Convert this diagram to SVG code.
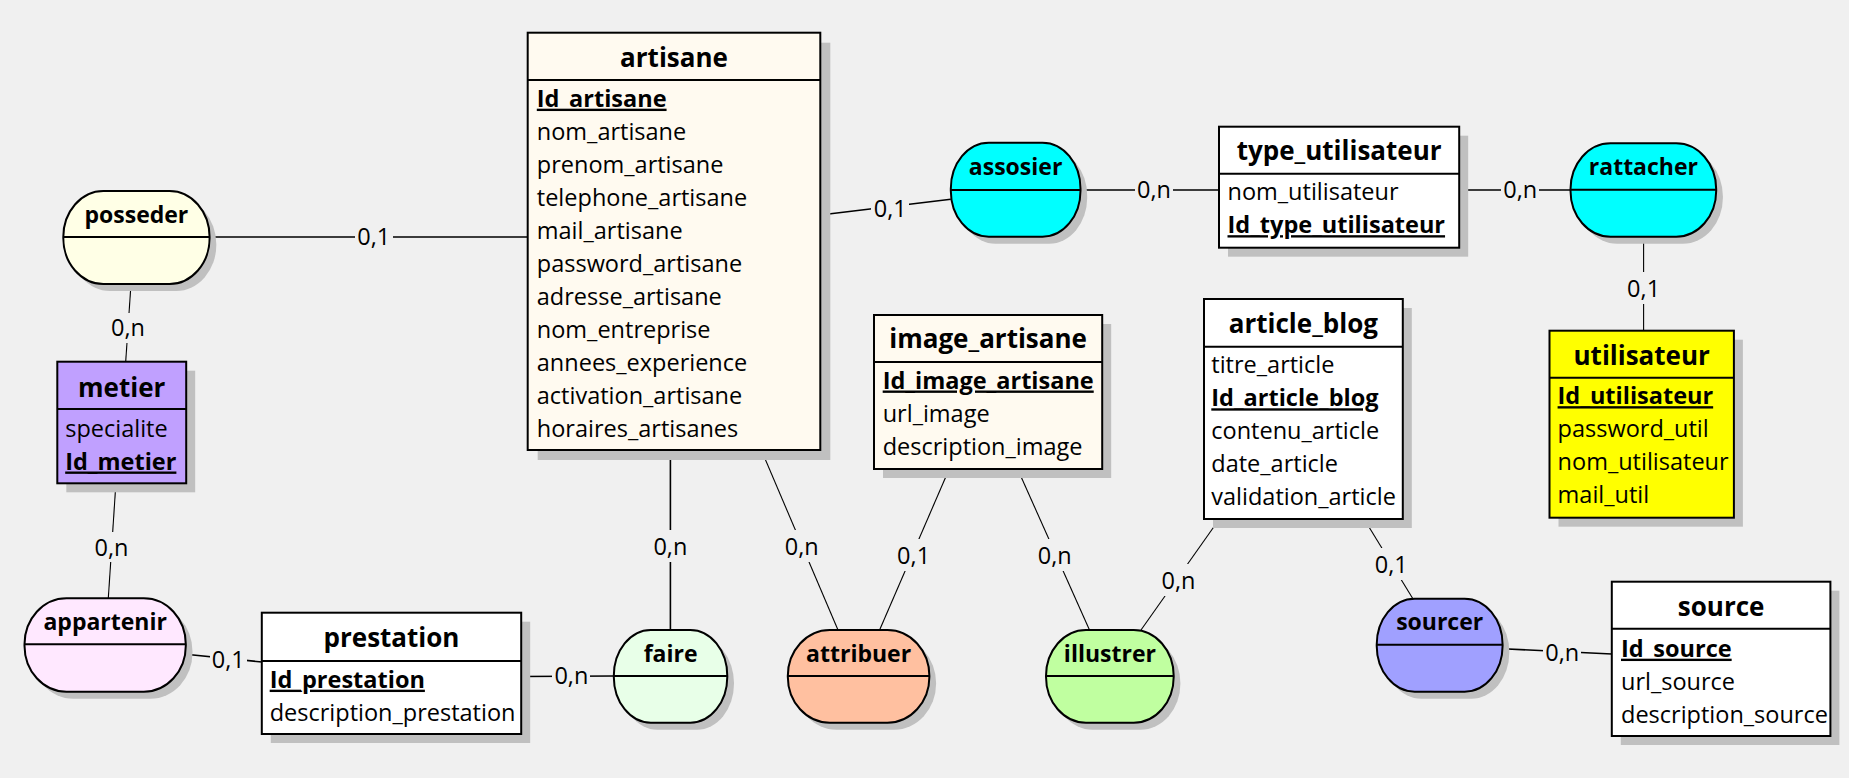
<svg xmlns="http://www.w3.org/2000/svg" width="1849" height="778" viewBox="0 0 1849 778">
<style>
.bg{fill:#f0f0f0}
.sh{fill:#c0c0c0}
.box{stroke:#000;stroke-width:2}
.div{stroke:#000;stroke-width:2}
.t{font-family:"Open Sans","DejaVu Sans",sans-serif;font-size:23.5px;fill:#000}
.ttl{font-weight:bold;font-size:26px;text-anchor:middle}
.id{font-weight:bold;text-decoration:underline}
.an{font-weight:bold;font-size:23px;text-anchor:middle}
.card{text-anchor:middle}
.ln{stroke:#000;stroke-width:1.6;fill:none}
.dl{stroke:#000;stroke-width:1.1;fill:none}
.cream{fill:#fffaf0}
.white{fill:#ffffff}
</style>
<rect class="bg" x="0" y="0" width="1849" height="778"/>

<g id="connectors">
  <line class="ln" x1="209.6" y1="237" x2="527.7" y2="237"/>
  <line class="dl" x1="131" y1="284" x2="125.7" y2="361.7"/>
  <line class="dl" x1="115.9" y1="483.3" x2="108.3" y2="598.3"/>
  <line class="ln" x1="185.8" y1="654.3" x2="261.8" y2="662"/>
  <line class="ln" x1="521.2" y1="676.5" x2="613.8" y2="676"/>
  <line class="ln" x1="670.4" y1="450" x2="670.4" y2="630"/>
  <line class="dl" x1="761.3" y1="450" x2="838" y2="630"/>
  <line class="dl" x1="949.2" y1="469" x2="879.6" y2="630"/>
  <line class="dl" x1="1017.6" y1="469" x2="1089.5" y2="630"/>
  <line class="dl" x1="1219.4" y1="519" x2="1141" y2="630"/>
  <line class="dl" x1="1364.1" y1="519" x2="1413.2" y2="599.3"/>
  <line class="ln" x1="1502.6" y1="648.7" x2="1611.8" y2="654"/>
  <line class="ln" x1="820.3" y1="215" x2="950.8" y2="199.3"/>
  <line class="ln" x1="1080.5" y1="190" x2="1219" y2="190"/>
  <line class="ln" x1="1459.2" y1="190" x2="1570.5" y2="190"/>
  <line class="dl" x1="1643.6" y1="236.7" x2="1643.6" y2="330.7"/>
  <g id="cards">
    <rect class="bg" x="355" y="224" width="38" height="26"/><text class="t card" x="373.7" y="245">0,1</text>
    <rect class="bg" x="109" y="313" width="38" height="30"/><text class="t card" x="128" y="336">0,n</text>
    <rect class="bg" x="92" y="532" width="38" height="30"/><text class="t card" x="111.5" y="555.5">0,n</text>
    <rect class="bg" x="210" y="648" width="37" height="24"/><text class="t card" x="228.3" y="668">0,1</text>
    <rect class="bg" x="552" y="663" width="38" height="26"/><text class="t card" x="571.4" y="684">0,n</text>
    <rect class="bg" x="651" y="530" width="38" height="32"/><text class="t card" x="670.4" y="555">0,n</text>
    <rect class="bg" x="782" y="530" width="38" height="32"/><text class="t card" x="801.7" y="555">0,n</text>
    <rect class="bg" x="894" y="539" width="38" height="32"/><text class="t card" x="913.6" y="564">0,1</text>
    <rect class="bg" x="1035" y="539" width="38" height="32"/><text class="t card" x="1054.7" y="564">0,n</text>
    <rect class="bg" x="1159" y="564" width="38" height="32"/><text class="t card" x="1178.5" y="589">0,n</text>
    <rect class="bg" x="1372" y="548" width="38" height="32"/><text class="t card" x="1391.2" y="573">0,1</text>
    <rect class="bg" x="1543" y="640" width="38" height="26"/><text class="t card" x="1562.2" y="661">0,n</text>
    <rect class="bg" x="871" y="195" width="38" height="26"/><text class="t card" x="890.3" y="216.5">0,1</text>
    <rect class="bg" x="1135" y="177" width="38" height="26"/><text class="t card" x="1154" y="198">0,n</text>
    <rect class="bg" x="1501" y="177" width="38" height="26"/><text class="t card" x="1520.3" y="198">0,n</text>
    <rect class="bg" x="1624" y="272" width="38" height="32"/><text class="t card" x="1643.6" y="296.5">0,1</text>
  </g>
</g>

<g id="artisane">
  <rect class="sh" x="537.7" y="42.7" width="292.6" height="417.3"/>
  <rect class="box cream" x="527.7" y="32.7" width="292.6" height="417.3"/>
  <line class="div" x1="527.7" y1="80" x2="820.3" y2="80"/>
  <text class="t ttl" x="674" y="66.7">artisane</text>
  <text class="t id" x="536.8" y="106.7">Id_artisane</text>
  <text class="t" x="536.8" y="139.7">nom_artisane</text>
  <text class="t" x="536.8" y="172.7">prenom_artisane</text>
  <text class="t" x="536.8" y="205.7">telephone_artisane</text>
  <text class="t" x="536.8" y="238.7">mail_artisane</text>
  <text class="t" x="536.8" y="271.7">password_artisane</text>
  <text class="t" x="536.8" y="304.7">adresse_artisane</text>
  <text class="t" x="536.8" y="337.7">nom_entreprise</text>
  <text class="t" x="536.8" y="370.7">annees_experience</text>
  <text class="t" x="536.8" y="403.7">activation_artisane</text>
  <text class="t" x="536.8" y="436.7">horaires_artisanes</text>
</g>

<g id="image_artisane">
  <rect class="sh" x="883" y="324" width="228.2" height="154"/>
  <rect class="box cream" x="874" y="315" width="228.2" height="154"/>
  <line class="div" x1="874" y1="362" x2="1102.2" y2="362"/>
  <text class="t ttl" x="988.1" y="348.3">image_artisane</text>
  <text class="t id" x="882.7" y="388.5">Id_image_artisane</text>
  <text class="t" x="882.7" y="421.5">url_image</text>
  <text class="t" x="882.7" y="454.5">description_image</text>
</g>

<g id="type_utilisateur">
  <rect class="sh" x="1228" y="135.7" width="240.2" height="121"/>
  <rect class="box white" x="1219" y="126.7" width="240.2" height="121"/>
  <line class="div" x1="1219" y1="173.7" x2="1459.2" y2="173.7"/>
  <text class="t ttl" x="1339.1" y="160">type_utilisateur</text>
  <text class="t" x="1227.5" y="200.2">nom_utilisateur</text>
  <text class="t id" x="1227.5" y="233.2">Id_type_utilisateur</text>
</g>

<g id="utilisateur">
  <rect class="sh" x="1558.5" y="339.7" width="184.4" height="187"/>
  <rect class="box" fill="#ffff00" x="1549.5" y="330.7" width="184.4" height="187"/>
  <line class="div" x1="1549.5" y1="377.7" x2="1733.9" y2="377.7"/>
  <text class="t ttl" x="1641.7" y="365">utilisateur</text>
  <text class="t id" x="1557.6" y="404.2">Id_utilisateur</text>
  <text class="t" x="1557.6" y="437.2">password_util</text>
  <text class="t" x="1557.6" y="470.2">nom_utilisateur</text>
  <text class="t" x="1557.6" y="503.2">mail_util</text>
</g>

<g id="article_blog">
  <rect class="sh" x="1213" y="308" width="198.8" height="220"/>
  <rect class="box white" x="1204" y="299" width="198.8" height="220"/>
  <line class="div" x1="1204" y1="346.7" x2="1402.8" y2="346.7"/>
  <text class="t ttl" x="1303.4" y="333.3">article_blog</text>
  <text class="t" x="1211.3" y="373.3">titre_article</text>
  <text class="t id" x="1211.3" y="406.3">Id_article_blog</text>
  <text class="t" x="1211.3" y="439.3">contenu_article</text>
  <text class="t" x="1211.3" y="472.3">date_article</text>
  <text class="t" x="1211.3" y="505.3">validation_article</text>
</g>

<g id="metier">
  <rect class="sh" x="66.3" y="370.7" width="128.9" height="121.6"/>
  <rect class="box" fill="#c0a0ff" x="57.3" y="361.7" width="128.9" height="121.6"/>
  <line class="div" x1="57.3" y1="409" x2="186.2" y2="409"/>
  <text class="t ttl" x="121.7" y="396.7">metier</text>
  <text class="t" x="65.2" y="436.5">specialite</text>
  <text class="t id" x="65.2" y="469.5">Id_metier</text>
</g>

<g id="prestation">
  <rect class="sh" x="270.8" y="621.7" width="259.4" height="121.3"/>
  <rect class="box white" x="261.8" y="612.7" width="259.4" height="121.3"/>
  <line class="div" x1="261.8" y1="661" x2="521.2" y2="661"/>
  <text class="t ttl" x="391.5" y="646.7">prestation</text>
  <text class="t id" x="269.7" y="687.7">Id_prestation</text>
  <text class="t" x="269.7" y="720.7">description_prestation</text>
</g>

<g id="source">
  <rect class="sh" x="1620.8" y="590.7" width="218.6" height="154.3"/>
  <rect class="box white" x="1611.8" y="581.7" width="218.6" height="154.3"/>
  <line class="div" x1="1611.8" y1="628.7" x2="1830.4" y2="628.7"/>
  <text class="t ttl" x="1721.1" y="616">source</text>
  <text class="t id" x="1621" y="656.7">Id_source</text>
  <text class="t" x="1621" y="689.7">url_source</text>
  <text class="t" x="1621" y="722.7">description_source</text>
</g>

<g id="posseder">
  <rect class="sh" x="70" y="198" width="146.3" height="93" rx="40" ry="46"/>
  <rect class="box" fill="#ffffe6" x="63.3" y="191" width="146.3" height="93" rx="40" ry="46"/>
  <line class="div" x1="63.3" y1="237" x2="209.6" y2="237"/>
  <text class="t an" x="136.4" y="222.7">posseder</text>
</g>

<g id="assosier">
  <rect class="sh" x="957.5" y="149.7" width="129.7" height="94" rx="38" ry="46"/>
  <rect class="box" fill="#00ffff" x="950.8" y="142.7" width="129.7" height="94" rx="38" ry="46"/>
  <line class="div" x1="950.8" y1="190" x2="1080.5" y2="190"/>
  <text class="t an" x="1015.6" y="175">assosier</text>
</g>

<g id="rattacher">
  <rect class="sh" x="1577.2" y="150.3" width="145.7" height="93.4" rx="40" ry="46"/>
  <rect class="box" fill="#00ffff" x="1570.5" y="143.3" width="145.7" height="93.4" rx="40" ry="46"/>
  <line class="div" x1="1570.5" y1="189.7" x2="1716.2" y2="189.7"/>
  <text class="t an" x="1643.4" y="175">rattacher</text>
</g>

<g id="appartenir">
  <rect class="sh" x="31.2" y="605.3" width="161.3" height="93.4" rx="42" ry="46"/>
  <rect class="box" fill="#ffe8ff" x="24.5" y="598.3" width="161.3" height="93.4" rx="42" ry="46"/>
  <line class="div" x1="24.5" y1="644.3" x2="185.8" y2="644.3"/>
  <text class="t an" x="105.2" y="630">appartenir</text>
</g>

<g id="faire">
  <rect class="sh" x="620.5" y="637" width="113.5" height="92.7" rx="37" ry="46"/>
  <rect class="box" fill="#e8ffe8" x="613.8" y="630" width="113.5" height="92.7" rx="37" ry="46"/>
  <line class="div" x1="613.8" y1="676" x2="727.3" y2="676"/>
  <text class="t an" x="670.6" y="661.7">faire</text>
</g>

<g id="attribuer">
  <rect class="sh" x="794.5" y="637" width="141.6" height="92.7" rx="42" ry="46"/>
  <rect class="box" fill="#ffc0a0" x="787.8" y="630" width="141.6" height="92.7" rx="42" ry="46"/>
  <line class="div" x1="787.8" y1="676" x2="929.4" y2="676"/>
  <text class="t an" x="858.6" y="661.7">attribuer</text>
</g>

<g id="illustrer">
  <rect class="sh" x="1052.7" y="637" width="127.7" height="92.7" rx="40" ry="46"/>
  <rect class="box" fill="#c0ffa0" x="1046" y="630" width="127.7" height="92.7" rx="40" ry="46"/>
  <line class="div" x1="1046" y1="676" x2="1173.7" y2="676"/>
  <text class="t an" x="1109.9" y="661.7">illustrer</text>
</g>

<g id="sourcer">
  <rect class="sh" x="1383.4" y="605.7" width="125.9" height="93" rx="38" ry="46"/>
  <rect class="box" fill="#a0a0ff" x="1376.7" y="598.7" width="125.9" height="93" rx="38" ry="46"/>
  <line class="div" x1="1376.7" y1="644.7" x2="1502.6" y2="644.7"/>
  <text class="t an" x="1439.7" y="630">sourcer</text>
</g>
</svg>
